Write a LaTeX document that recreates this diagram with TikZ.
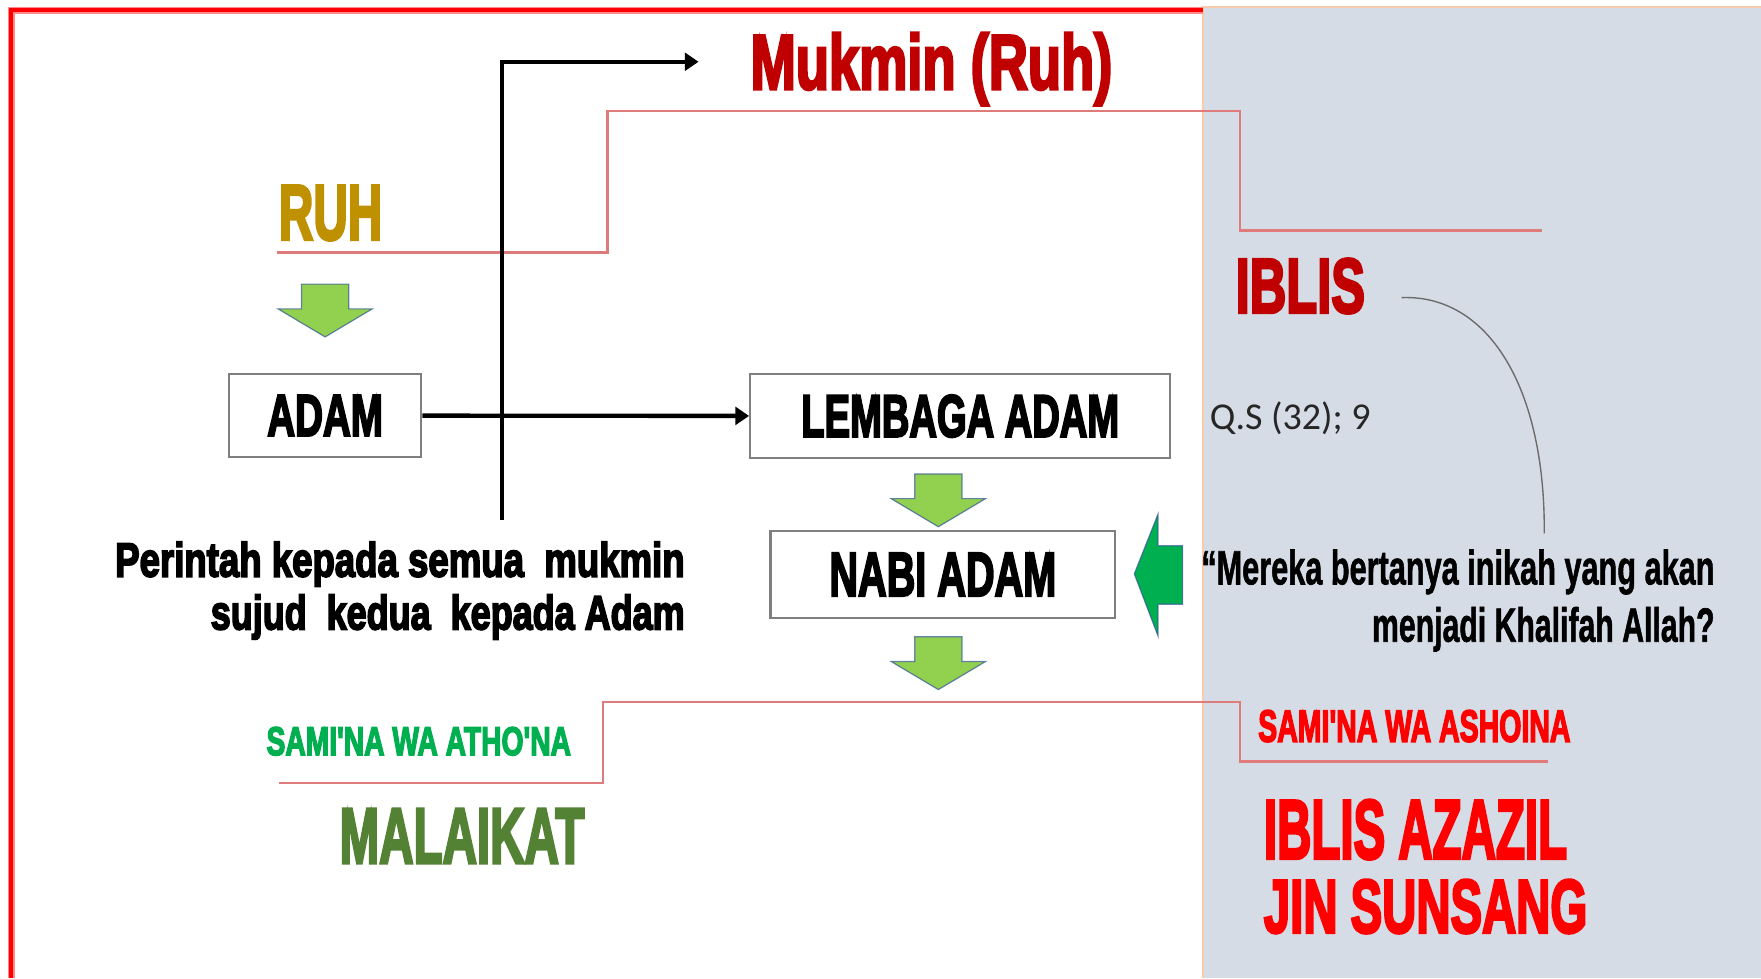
\documentclass[tikz,border=0pt]{standalone}
\usepackage{fontspec}
\usepackage{graphicx}
\usetikzlibrary{arrows.meta}
\setmainfont{Liberation Sans}
\newfontfamily\heavy{Liberation Sans Bold}[FakeBold=4]
\newfontfamily\medium{Liberation Sans Bold}[FakeBold=1.5]
\newfontfamily\calib{Carlito}
% one drawing unit
\newlength\pxu \setlength\pxu{0.02cm}
\newcommand\fitwh[3]{\resizebox{#1\pxu}{#2\pxu}{#3}}
\newcommand\fitw[2]{\resizebox{#1\pxu}{!}{#2}}

\definecolor{framered}{HTML}{FF0000}
\definecolor{framelight}{HTML}{FF8A8A}
\definecolor{panel}{HTML}{D6DCE5}
\definecolor{paneledge}{HTML}{F8CBAD}
\definecolor{gold}{HTML}{BF9000}
\definecolor{darkred}{HTML}{C00000}
\definecolor{linkred}{HTML}{E07B7B}
\definecolor{boxgray}{HTML}{7F7F7F}
\definecolor{lightgreen}{HTML}{92D050}
\definecolor{brightgreen}{HTML}{00B050}
\definecolor{olivegreen}{HTML}{548235}
\definecolor{arrowblue}{HTML}{2F5597}
\definecolor{curvegray}{HTML}{6B6B6B}

\tikzset{
  txt/.style={inner sep=0pt, anchor=north west},
  txtr/.style={inner sep=0pt, anchor=north east},
  stepbox/.style={draw=boxgray, line width=1.2pt, fill=white, inner sep=0pt},
  blackarrow/.style={line width=2.2pt, -{Triangle[length=7pt,width=9pt]}},
  redlink/.style={draw=linkred, line width=1.3pt},
  greenfill/.style={fill=lightgreen, draw=arrowblue, draw opacity=0.7, line width=0.6pt, line join=miter},
  downarr/.pic={\path[greenfill] (-21,0) -- (21,0) -- (21,22) -- (42,22) -- (0,47) -- (-42,22) -- (-21,22) -- cycle;}
}

\begin{document}
\begin{tikzpicture}[x=0.02cm, y=-0.02cm]
\useasboundingbox (0,0) rectangle (1568,871);
\fill[white] (0,0) rectangle (1568,871);

% right-hand panel
\fill[panel] (1071,6) rectangle (1568,871);
\draw[paneledge, line width=1pt] (1071,871) -- (1071,6) -- (1568,6);

% red frame on the left
\draw[framelight, line width=3.6pt] (10,871) -- (10,9) -- (1071,9);
\draw[framered, line width=1.8pt] (10,871) -- (10,9) -- (1071,9);

% red link lines
\coordinate (ra) at (247,225);
\coordinate (rb) at (541,225);
\coordinate (rc) at (541,99);
\coordinate (rd) at (1104,99);
\coordinate (re) at (1104,205);
\coordinate (rf) at (1373,205);
\draw[redlink] (ra) -- (rb) -- (rc) -- (rd) -- (re) -- (rf);
\coordinate (la) at (248,697);
\coordinate (lb) at (537,697);
\coordinate (lc) at (537,625);
\coordinate (ld) at (1104,625);
\coordinate (le) at (1104,678);
\coordinate (lf) at (1378,678);
\draw[redlink] (la) -- (lb) -- (lc) -- (ld) -- (le) -- (lf);

% boxes
\node[stepbox, minimum width=3.42cm, minimum height=1.48cm] (adam) at (289.5,370) {\heavy\fitwh{103}{36}{ADAM}};
\node[stepbox, minimum width=7.48cm, minimum height=1.5cm] (lembaga) at (855,370.5) {\heavy\fitwh{283}{37}{LEMBAGA ADAM}};
\node[stepbox, minimum width=6.14cm, minimum height=1.54cm] (nabi) at (839.5,511.5) {\heavy\fitwh{202}{38}{NABI ADAM}};

% black connectors
\draw[blackarrow] (adam) -- (lembaga);
\coordinate (vbot) at (447,463);
\coordinate (vtop) at (447,55);
\coordinate (vend) at (622,55);
\draw[blackarrow, line join=miter] (vbot) -- (vtop) -- (vend);

% green block arrows
\pic at (289.5,253) {downarr};
\pic at (835.5,422) {downarr};
\pic at (835.5,567) {downarr};
\path[fill=brightgreen, draw=arrowblue, draw opacity=0.7, line width=0.6pt]
  (1010,511) -- (1031,458) -- (1031,486) -- (1053,486) -- (1053,538) -- (1031,538) -- (1031,566) -- cycle;

% curved pointer
\coordinate (cs) at (1248,265);
\coordinate (ce) at (1375,475);
\draw[curvegray, line width=0.7pt] (cs) .. controls (1325,262) and (1376,345) .. (ce);

% labels
\node[txt, text=gold] (ruh) at (248,165) {\heavy\fitwh{92}{48}{RUH}};
\node[txt, text=darkred] (mukmin) at (668,29) {\heavy\fitwh{322}{50}{Mukmin (Ruh)}};
\node[txt, text=darkred] (iblis) at (1100,230) {\heavy\fitwh{115}{48}{IBLIS}};
\node[txtr] (perintah1) at (610,482) {\heavy\fitwh{507}{31}{Perintah kepada semua\ \ mukmin}};
\node[txtr] (perintah2) at (610,529) {\heavy\fitwh{422}{31}{sujud\ \ kedua\ \ kepada Adam}};
\node[txt, text=black!85] (qs) at (1077,357) {\calib\fitw{143}{Q.S (32); 9}};
\node[txtr] (quote1) at (1527,489) {\medium\fitwh{457}{31}{“Mereka bertanya inikah yang akan}};
\node[txtr] (quote2) at (1527,540) {\medium\fitwh{305}{31}{menjadi Khalifah Allah?}};
\node[txt, text=brightgreen] (taat) at (237,647) {\heavy\fitwh{271}{25}{SAMI'NA WA ATHO'NA}};
\node[txt, text=olivegreen] (malaikat) at (302,720) {\heavy\fitwh{218}{48}{MALAIKAT}};
\node[txt, text=framered] (ingkar) at (1120,632) {\heavy\fitwh{278}{28}{SAMI'NA WA ASHOINA}};
\node[txt, text=framered] (azazil) at (1125,712) {\heavy\fitwh{270}{52}{IBLIS AZAZIL}};
\node[txt, text=framered] (sunsang) at (1125,783) {\heavy\fitwh{288}{47}{JIN SUNSANG}};
\end{tikzpicture}
\end{document}
